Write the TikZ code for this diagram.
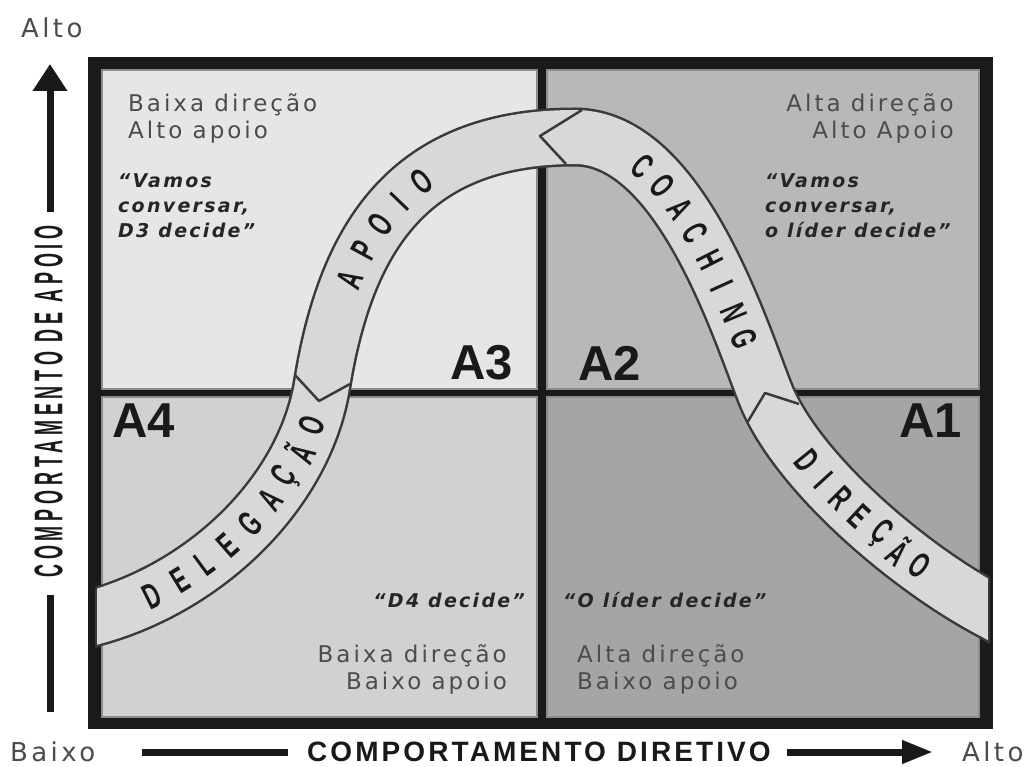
\documentclass[tikz,border=0pt]{standalone}
\usepackage{fontspec}
\setmainfont{DejaVu Sans}
\newfontfamily\quadfont{DejaVu Sans}[LetterSpace=13]
\newfontfamily\quotefont{DejaVu Sans}[LetterSpace=12]
\newfontfamily\labelfont{Liberation Sans}
\newfontfamily\axisfont{Liberation Sans}[LetterSpace=11]
\newfontfamily\tallfont{Liberation Sans}[FakeStretch=0.45,LetterSpace=12]
\newfontfamily\bandfont{Liberation Sans}[FakeStretch=0.6]
\usetikzlibrary{arrows.meta}
\definecolor{framegray}{HTML}{1A1A1A}
\definecolor{quadTL}{HTML}{E6E6E6}
\definecolor{quadTR}{HTML}{B8B8B8}
\definecolor{quadBL}{HTML}{D1D1D1}
\definecolor{quadBR}{HTML}{A5A5A5}
\definecolor{bandfill}{HTML}{D8D8D8}
\definecolor{bandedge}{HTML}{3A3A3A}
\begin{document}
\begin{tikzpicture}[x=1pt, y=-1pt,
    quad/.style={draw=black!45, line width=1.5pt},
    quadtext/.style={inner sep=0pt, text=black!70, font=\quadfont\fontsize{23}{27}\selectfont},
    quotetext/.style={inner sep=0pt, text=black!85, font=\quotefont\bfseries\itshape\fontsize{19}{25}\selectfont},
    level/.style={inner sep=0pt, text=black!90, font=\labelfont\bfseries\fontsize{49}{49}\selectfont},
    endtext/.style={inner sep=0pt, text=black!70, font=\quadfont\fontsize{26}{26}\selectfont},
    axisline/.style={line width=7pt, draw=black!90},
    bandline/.style={draw=bandedge, line width=2.5pt, line join=round},
    bandtext/.style={sloped, inner sep=0pt, text=black!90, font=\bandfont\bfseries\fontsize{36}{36}\selectfont}
]
    \useasboundingbox (0,0) rectangle (1025,767);

    % Frame and quadrants
    \fill[framegray] (88,57) rectangle (993,729);
    \filldraw[quad, fill=quadTL] (102,70) rectangle (537,389);
    \filldraw[quad, fill=quadTR] (547,70) rectangle (979,389);
    \filldraw[quad, fill=quadBL] (102,397) rectangle (537,717);
    \filldraw[quad, fill=quadBR] (547,397) rectangle (979,717);

    % Band
    \coordinate (b0) at (67,625);
    \coordinate (b1) at (96,617);
    \coordinate (j1) at (322,385);
    \coordinate (j2) at (575,137);
    \coordinate (j3) at (765,393);
    \coordinate (b2) at (989,610);
    \coordinate (b3) at (1015,624);
    \begin{scope}
        \clip (96,0) rectangle (989,767);
        \draw[line width=54pt, draw=bandfill, preaction={draw=bandedge, line width=59pt}]
            (b0) -- (b1) .. controls (210,585) and (305,490) .. (j1)
            .. controls (346,236) and (410,137) .. (j2)
            .. controls (680,137) and (740,330) .. (j3)
            .. controls (795,470) and (905,565) .. (b2) -- (b3);
    \end{scope}
    \draw[bandline] (96,587) -- (96,647);
    \draw[bandline] (989,577) -- (989,643);

    % Arrow heads between the stages
    \draw[bandline] (295,375) -- (319,401) -- (350,384);
    \draw[bandline] (582,110) -- (540,136) -- (566,164);
    \draw[bandline] (747,423) -- (765,393) -- (799,404);

    % Stage names on the band
    \path (b1) .. controls (210,585) and (305,490) .. (j1)
        foreach \l/\p in {D/0.17, E/0.26, L/0.345, E/0.43, G/0.52, A/0.61, Ç/0.695, Ã/0.78, O/0.87}
        {node[bandtext, pos=\p] {\l}};
    \path (j1) .. controls (346,236) and (410,137) .. (j2)
        foreach \l/\p in {A/0.26, P/0.345, O/0.43, I/0.515, O/0.60}
        {node[bandtext, pos=\p] {\l}};
    \path (j2) .. controls (680,137) and (740,330) .. (j3)
        foreach \l/\p in {C/0.24, O/0.32, A/0.40, C/0.475, H/0.555, I/0.63, N/0.71, G/0.79}
        {node[bandtext, pos=\p] {\l}};
    \path (j3) .. controls (795,470) and (905,565) .. (b2)
        foreach \l/\p in {D/0.28, I/0.36, R/0.435, E/0.51, Ç/0.59, Ã/0.665, O/0.74}
        {node[bandtext, pos=\p] {\l}};

    % Quadrant texts
    \node[quadtext, align=left, anchor=north west] (txtA3) at (128,93.5) {Baixa direção\\Alto apoio};
    \node[quotetext, align=left, anchor=north west] (quoteA3) at (118,173) {“Vamos\\conversar,\\D3 decide”};
    \node[quadtext, align=right, anchor=north east] (txtA2) at (954,93.5) {Alta direção\\Alto Apoio};
    \node[quotetext, align=left, anchor=north west] (quoteA2) at (765,173) {“Vamos\\conversar,\\o líder decide”};
    \node[quotetext, anchor=base east] (quoteA4) at (525,607) {“D4 decide”};
    \node[quadtext, align=right, anchor=north east] (txtA4) at (507,644.5) {Baixa direção\\Baixo apoio};
    \node[quotetext, anchor=base west] (quoteA1) at (563,607) {“O líder decide”};
    \node[quadtext, align=left, anchor=north west] (txtA1) at (577,644.5) {Alta direção\\Baixo apoio};

    % Levels
    \node[level, anchor=base east] (A3) at (513,379) {A3};
    \node[level, anchor=base west] (A2) at (578,380) {A2};
    \node[level, anchor=base west] (A4) at (112,437) {A4};
    \node[level, anchor=base east] (A1) at (962,437) {A1};

    % Axes
    \node[endtext, anchor=base west] (altoY) at (21,38) {Alto};
    \node[endtext, anchor=base west] (baixoX) at (10,761) {Baixo};
    \node[endtext, anchor=base west] (altoX) at (962,761) {Alto};
    \node[rotate=90, inner sep=0pt, text=black!90, font=\tallfont\bfseries\fontsize{40}{40}\selectfont] (apoio) at (48.5,401.5) {COMPORTAMENTO DE APOIO};
    \node[anchor=base west, inner sep=0pt, text=black!90, font=\axisfont\bfseries\fontsize{28}{28}\selectfont] (diretivo) at (307,761) {COMPORTAMENTO DIRETIVO};
    \coordinate (apoioHead) at (50,64);
    \coordinate (apoioTail) at (50,212);
    \coordinate (apoioLow) at (50,595);
    \coordinate (apoioEnd) at (50,712);
    \coordinate (diretLeft) at (142,752);
    \coordinate (diretMid) at (288,752);
    \coordinate (diretStart) at (787,752);
    \coordinate (diretHead) at (933,752);
    \draw[axisline, -{Triangle[width=33pt,length=27pt]}] (apoioTail) -- (apoioHead);
    \draw[axisline] (apoioLow) -- (apoioEnd);
    \draw[axisline] (diretLeft) -- (diretMid);
    \draw[axisline, -{Triangle[width=22pt,length=31pt]}] (diretStart) -- (diretHead);

\end{tikzpicture}
\end{document}
